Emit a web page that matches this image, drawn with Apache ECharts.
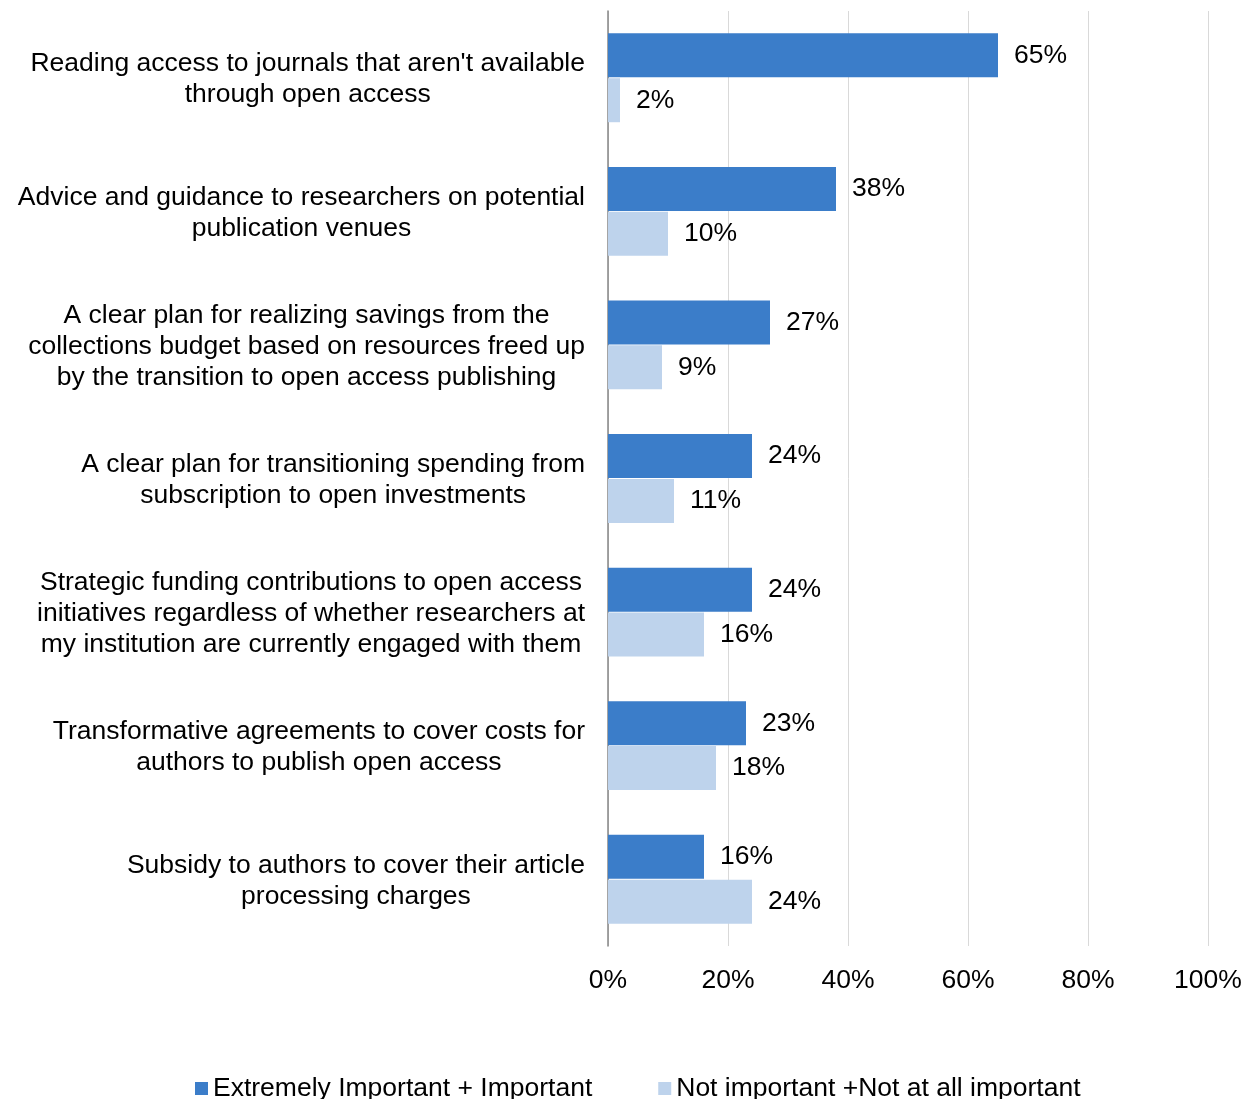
<!DOCTYPE html>
<html>
<head>
<meta charset="utf-8">
<script src="https://cdn.jsdelivr.net/npm/echarts@6/dist/echarts.min.js"></script>
<style>
  html, body { margin: 0; padding: 0; background: #ffffff; }
  #chart { width: 1252px; height: 1099px; }
</style>
</head>
<body>
<div id="chart"></div>
<script>
// Priorities rated by respondents, one entry per statement (top to bottom)
const categories = [
  "Reading access to journals that aren't available\nthrough open access",
  "Advice and guidance to researchers on potential\npublication venues",
  "A clear plan for realizing savings from the\ncollections budget based on resources freed up\nby the transition to open access publishing",
  "A clear plan for transitioning spending from\nsubscription to open investments",
  "Strategic funding contributions to open access\ninitiatives regardless of whether researchers at\nmy institution are currently engaged with them",
  "Transformative agreements to cover costs for\nauthors to publish open access",
  "Subsidy to authors to cover their article\nprocessing charges"
];

const seriesNames = ["Extremely Important + Important", "Not important +Not at all important"];

// Share of respondents (%)
const importantValues = [65, 38, 27, 24, 24, 23, 16];
const notImportantValues = [2, 10, 9, 11, 16, 18, 24];

const xTicks = [0, 20, 40, 60, 80, 100];

const FONT = "'Liberation Sans', Arial, sans-serif";
const FS = 26.5;
const chart = echarts.init(document.getElementById('chart'), null, { renderer: 'canvas' });

const labelStyle = {
  show: true,
  position: 'right',
  distance: 16,
  formatter: p => p.value + '%',
  fontFamily: FONT,
  fontSize: FS,
  color: '#000000'
};

chart.setOption({
  animation: false,
  backgroundColor: '#ffffff',
  textStyle: { fontFamily: FONT },
  grid: { left: 608, right: 44, top: 11, bottom: 153, containLabel: false },
  legend: {
    bottom: -8,
    left: 190,
    itemWidth: 13,
    itemHeight: 13,
    itemGap: 66,
    icon: 'rect',
    textStyle: { fontFamily: FONT, fontSize: FS, color: '#000000' },
    data: seriesNames
  },
  xAxis: {
    type: 'value',
    min: xTicks[0],
    max: xTicks[xTicks.length - 1],
    interval: xTicks[1] - xTicks[0],
    axisLine: { show: false },
    axisTick: { show: false },
    splitLine: { show: true, lineStyle: { color: '#d9d9d9', width: 1 } },
    axisLabel: {
      formatter: v => v + '%',
      fontFamily: FONT,
      fontSize: FS,
      color: '#000000',
      margin: 21
    }
  },
  yAxis: {
    type: 'category',
    inverse: true,
    data: categories,
    axisLine: { show: true, lineStyle: { color: '#868686', width: 1.5 } },
    axisTick: { show: false },
    axisLabel: {
      margin: 23,
      align: 'right',
      padding: [3, 0, 0, 0],
      formatter: v => v.split('\n').map(line => '{c|' + line + '}').join('\n'),
      rich: {
        c: { align: 'center', fontFamily: FONT, fontSize: FS, lineHeight: 31, color: '#000000' }
      }
    }
  },
  series: [
    {
      name: seriesNames[0],
      type: 'bar',
      data: importantValues,
      barWidth: 44,
      barGap: '2%',
      itemStyle: { color: '#3b7dc9' },
      label: labelStyle
    },
    {
      name: seriesNames[1],
      type: 'bar',
      data: notImportantValues,
      barWidth: 44,
      itemStyle: { color: '#bed3ec' },
      label: labelStyle
    }
  ]
});
</script>
</body>
</html>
